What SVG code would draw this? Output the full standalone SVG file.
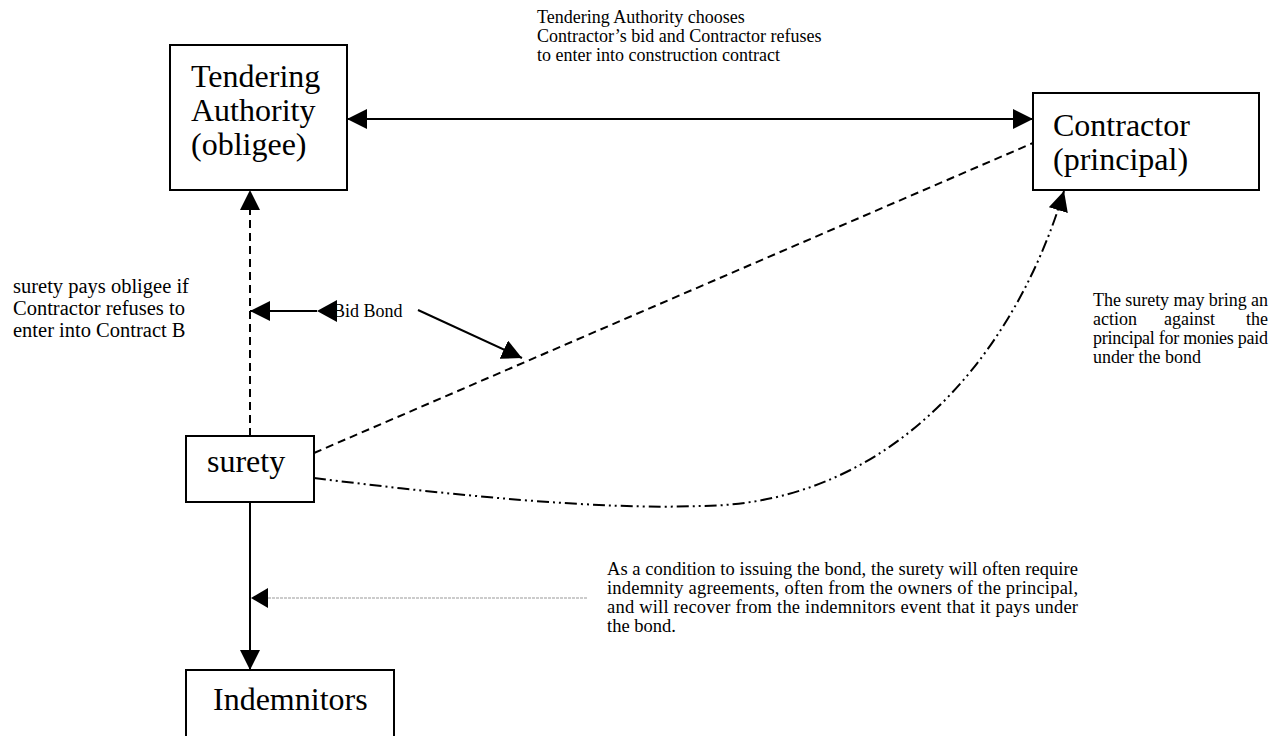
<svg xmlns="http://www.w3.org/2000/svg" width="1272" height="736" viewBox="0 0 1272 736">
<style>
.box{fill:#fff;stroke:#000;stroke-width:2}
.big{font-family:"Liberation Serif","Times New Roman",serif;font-size:32px;fill:#000}
.sm{font-family:"Liberation Serif","Times New Roman",serif;font-size:18px;fill:#000}
.lt{font-family:"Liberation Serif","Times New Roman",serif;font-size:20.5px;fill:#000}
.bt{font-family:"Liberation Serif","Times New Roman",serif;font-size:18.5px;fill:#000}
.ln{fill:none;stroke:#000;stroke-width:2}
.dash{stroke-dasharray:8 5}
.dd{stroke-dasharray:12 4 2 4 2 4}
.grey{fill:none;stroke:#999;stroke-width:1;stroke-dasharray:3 1}
</style>
<defs>
<marker id="ah" markerUnits="userSpaceOnUse" markerWidth="20" markerHeight="20" refX="20" refY="10" orient="auto-start-reverse">
<path d="M0,0 L20,10 L0,20 z" fill="#000"/>
</marker>
</defs>
<rect width="1272" height="736" fill="#fff"/>

<g id="connectors">
<line class="ln" x1="347" y1="119" x2="1033" y2="119" marker-start="url(#ah)" marker-end="url(#ah)"/>
<line class="ln dash" x1="250" y1="436" x2="250" y2="190" marker-end="url(#ah)"/>
<line class="ln" x1="317" y1="311" x2="250" y2="311" marker-end="url(#ah)"/>
<path d="M317,311 L337,300 L337,322 z" fill="#000"/>
<line class="ln" x1="418" y1="310" x2="522" y2="358" marker-end="url(#ah)"/>
<line class="ln dash" x1="314" y1="453" x2="1033" y2="143"/>
<path class="ln dd" d="M314,478 C450,495 600,510 700,506 C880,505 1010,370 1064,191" marker-end="url(#ah)"/>
<line class="ln" x1="250" y1="502" x2="250" y2="670" marker-end="url(#ah)"/>
<line class="grey" x1="587" y1="598" x2="262" y2="598"/>
<path d="M251,598 L268,588 L268,608 z" fill="#000"/>
</g>

<g id="tendering">
<rect class="box" x="170" y="45" width="177" height="145"/>
<text class="big" x="191" y="87">Tendering</text>
<text class="big" x="191" y="121">Authority</text>
<text class="big" x="191" y="155">(obligee)</text>
</g>

<g id="contractor">
<rect class="box" x="1033" y="93" width="226" height="97"/>
<text class="big" x="1053" y="136">Contractor</text>
<text class="big" x="1053" y="170">(principal)</text>
</g>

<g id="surety">
<rect class="box" x="186" y="436" width="128" height="66"/>
<text class="big" x="207" y="472">surety</text>
</g>

<g id="indemnitors">
<rect class="box" x="186" y="670" width="208" height="80"/>
<text class="big" x="213" y="710">Indemnitors</text>
</g>

<g id="labels">
<text class="sm" x="537" y="23">Tendering Authority chooses</text>
<text class="sm" x="537" y="42">Contractor’s bid and Contractor refuses</text>
<text class="sm" x="537" y="61">to enter into construction contract</text>

<text class="lt" x="13" y="293">surety pays obligee if</text>
<text class="lt" x="13" y="315">Contractor refuses to</text>
<text class="lt" x="13" y="337">enter into Contract B</text>

<text class="sm" x="333" y="317">Bid Bond</text>

<text class="sm" x="1093" y="306" textLength="175" lengthAdjust="spacing">The surety may bring an</text>
<text class="sm" x="1093" y="325">action</text>
<text class="sm" x="1164" y="325">against</text>
<text class="sm" x="1268" y="325" text-anchor="end">the</text>
<text class="sm" x="1093" y="344" textLength="175" lengthAdjust="spacing">principal for monies paid</text>
<text class="sm" x="1093" y="363">under the bond</text>

<text class="bt" x="607" y="575" textLength="471" lengthAdjust="spacing">As a condition to issuing the bond, the surety will often require</text>
<text class="bt" x="607" y="594" textLength="471" lengthAdjust="spacing">indemnity agreements, often from the owners of the principal,</text>
<text class="bt" x="607" y="613" textLength="471" lengthAdjust="spacing">and will recover from the indemnitors event that it pays under</text>
<text class="bt" x="607" y="632">the bond.</text>
</g>
</svg>
